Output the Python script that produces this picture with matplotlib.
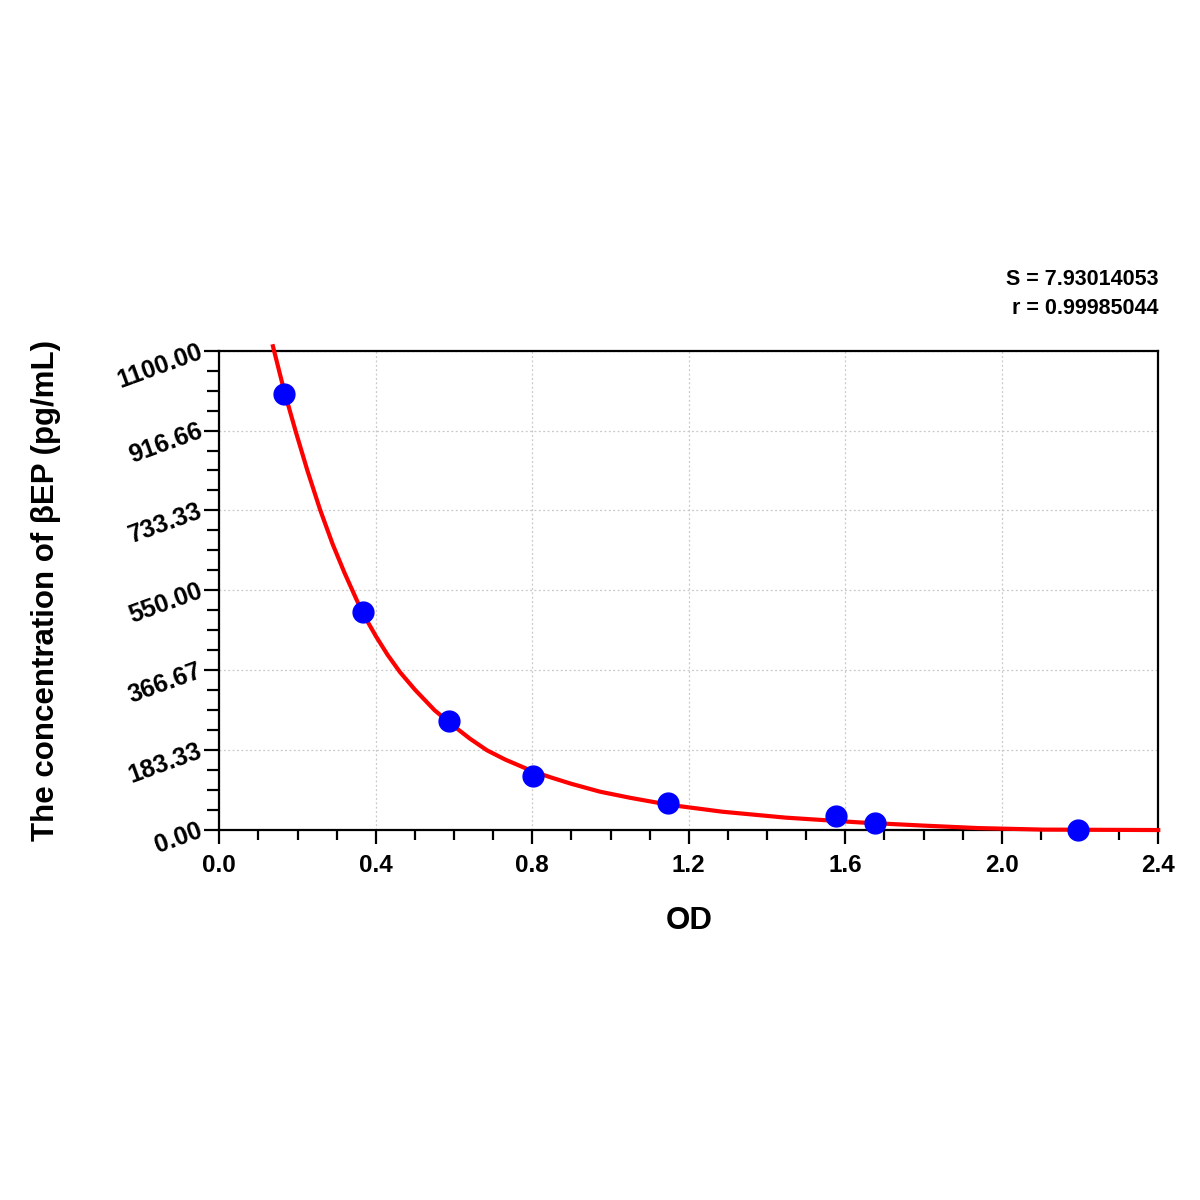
import matplotlib
matplotlib.use("Agg")
import matplotlib.pyplot as plt
from matplotlib.ticker import MultipleLocator

plt.rcParams['font.family'] = ['Liberation Sans', 'DejaVu Sans']

# standard points (OD, concentration pg/mL)
std_od = [0.165, 0.367, 0.586, 0.801, 1.147, 1.576, 1.677, 2.195]
std_conc = [1000, 500, 250, 125, 62.5, 31.25, 15.6, 0]

# fitted curve
curve_od = [0.137, 0.165, 0.195, 0.225, 0.2575, 0.29, 0.32, 0.35, 0.367, 0.40,
            0.43, 0.462, 0.50, 0.55, 0.59, 0.64, 0.684, 0.73, 0.80, 0.85,
            0.90, 0.973, 1.05, 1.149, 1.286, 1.447, 1.636, 1.797, 1.94,
            2.105, 2.4]
curve_conc = [1110, 1010, 915, 825, 735, 655, 590, 530, 497, 445,
              402, 362, 322, 275, 245, 210, 183, 162, 135, 120,
              106, 88, 74, 58, 42, 28.5, 17.5, 10.3, 4.5,
              1, 0]

y_ticks = [0.00, 183.33, 366.67, 550.00, 733.33, 916.66, 1100.00]
y_tick_labels = ['0.00', '183.33', '366.67', '550.00', '733.33', '916.66', '1100.00']
x_ticks = [0.0, 0.4, 0.8, 1.2, 1.6, 2.0, 2.4]

stats_text = "S = 7.93014053\nr = 0.99985044"

fig = plt.figure(figsize=(12, 12), dpi=100)
ax = fig.add_axes([0.1828, 0.3083, 0.7824, 0.3995])

ax.plot(curve_od, curve_conc, color='#ff0000', lw=3.0, zorder=3, clip_on=False,
        solid_joinstyle='round')
ax.plot(std_od, std_conc, 'o', color='#0000ff', markersize=15, zorder=4,
        clip_on=False)

ax.set_xlim(0, 2.4)
ax.set_ylim(0, 1100)

ax.set_xticks(x_ticks)
ax.set_xticklabels(['%.1f' % v for v in x_ticks])
ax.xaxis.set_minor_locator(MultipleLocator(0.1))
ax.set_yticks(y_ticks)
ax.set_yticklabels(y_tick_labels)
ax.yaxis.set_minor_locator(MultipleLocator(1100 / 24))

ax.grid(True, which='major', linestyle=(0, (1.5, 2)), color='#c8c8c8', lw=0.9)
ax.set_axisbelow(True)

for sp in ax.spines.values():
    sp.set_linewidth(1.6)

ax.tick_params(axis='both', which='major', direction='out', width=1.6)
ax.tick_params(axis='x', which='major', length=10, labelsize=17.5, pad=7)
ax.tick_params(axis='x', which='minor', direction='out', length=7, width=1.6)
ax.tick_params(axis='y', which='major', length=11, labelsize=18, pad=2)
ax.tick_params(axis='y', which='minor', direction='out', length=9, width=1.6)

for lab in ax.get_xticklabels():
    lab.set_fontweight('bold')
for lab in ax.get_yticklabels():
    lab.set_fontweight('bold')
    lab.set_rotation(20)
    lab.set_rotation_mode('anchor')
    lab.set_ha('right')
    lab.set_va('center')

ax.set_xlabel('OD', fontsize=22.5, fontweight='bold')
ax.xaxis.label.set_va('center')
ax.xaxis.set_label_coords(0.5, -0.19)
ax.set_ylabel('The concentration of βEP (pg/mL)', fontsize=22.5,
              fontweight='bold')
ax.yaxis.label.set_va('center')
ax.yaxis.label.set_ha('center')
ax.yaxis.set_label_coords(-0.185, 0.5)

fig.text(0.965, 0.734, stats_text, ha='right', va='bottom', fontsize=15.5,
         fontweight='bold', linespacing=1.5)

fig.savefig('out.png', dpi=100)
